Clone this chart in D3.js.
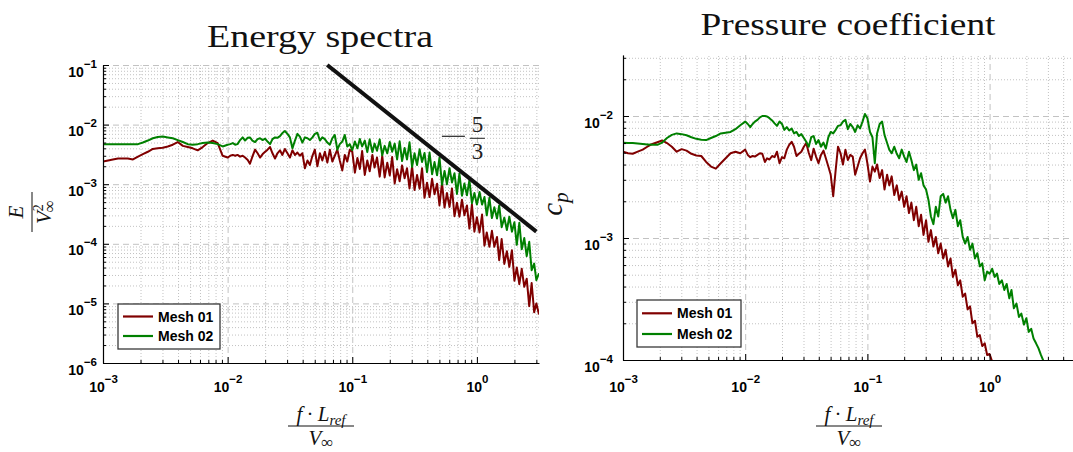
<!DOCTYPE html>
<html><head><meta charset="utf-8">
<script src="https://cdnjs.cloudflare.com/ajax/libs/d3/7.8.5/d3.min.js"></script>
<style>body{margin:0;background:#fff;} svg{display:block;}</style>
</head><body>
<script>
// ---------------- data ----------------
const freq = [
1.00e-3,1.10e-3,1.20e-3,1.32e-3,1.45e-3,1.58e-3,1.74e-3,1.91e-3,2.09e-3,2.29e-3,
2.51e-3,2.75e-3,3.02e-3,3.31e-3,3.63e-3,3.98e-3,4.37e-3,4.79e-3,5.25e-3,5.75e-3,
6.31e-3,6.92e-3,7.59e-3,8.32e-3,9.12e-3,
0.0100,0.0105,0.0110,0.0115,0.0120,0.0126,0.0132,0.0138,0.0145,0.0151,
0.0158,0.0166,0.0174,0.0182,0.0191,0.0200,0.0209,0.0219,0.0229,0.0240,
0.0251,0.0263,0.0275,0.0288,0.0302,0.0316,0.0331,0.0347,0.0363,0.0380,
0.0398,0.0417,0.0437,0.0457,0.0479,0.0501,0.0525,0.0550,0.0575,0.0603,
0.0631,0.0661,0.0692,0.0724,0.0759,0.0794,0.0832,0.0871,0.0912,0.0955,
0.100,0.105,0.110,0.115,0.120,0.126,0.132,0.138,0.145,0.151,
0.158,0.166,0.174,0.182,0.191,0.200,0.209,0.219,0.229,0.240,
0.251,0.263,0.275,0.288,0.302,0.316,0.331,0.347,0.363,0.380,
0.398,0.417,0.437,0.457,0.479,0.501,0.525,0.550,0.575,0.603,
0.631,0.661,0.692,0.724,0.759,0.794,0.832,0.871,0.912,0.955,
1.00,1.05,1.10,1.15,1.20,1.26,1.32,1.38,1.45,1.51,
1.58,1.66,1.74,1.82,1.91,2.00,2.09,2.19,2.29,2.40,
2.51,2.63,2.75,2.88,3.00,3.15];

// Energy spectra E/V^2
const specMesh01 = [
2.4e-3,2.5e-3,2.6e-3,2.7e-3,2.7e-3,2.7e-3,2.6e-3,2.9e-3,3.2e-3,3.5e-3,
3.9e-3,4.0e-3,4.1e-3,4.3e-3,4.6e-3,5.1e-3,4.4e-3,4.2e-3,4.0e-3,3.7e-3,
4.2e-3,4.9e-3,5.4e-3,4.9e-3,3.0e-3,
2.8e-3,3.0e-3,3.1e-3,3.0e-3,3.1e-3,2.9e-3,3.0e-3,2.8e-3,2.55e-3,2.2e-3,
2.9e-3,3.8e-3,3.3e-3,2.8e-3,3.2e-3,3.5e-3,3.8e-3,4.2e-3,3.3e-3,2.7e-3,
3.3e-3,3.7e-3,3.1e-3,3.9e-3,3.3e-3,2.8e-3,3.7e-3,3.1e-3,3.4e-3,3.0e-3,
3.3e-3,1.85e-3,2.5e-3,2.1e-3,3.0e-3,3.8e-3,2.0e-3,3.3e-3,2.5e-3,3.5e-3,
2.3e-3,3.8e-3,2.4e-3,3.0e-3,3.8e-3,2.5e-3,1.7e-3,3.1e-3,2.4e-3,3.8e-3,
3.5e-3,1.56e-3,2.75e-3,1.8e-3,3.6e-3,1.43e-3,2.5e-3,1.65e-3,3.1e-3,1.9e-3,
2.8e-3,1.34e-3,3.0e-3,1.3e-3,2.3e-3,1.4e-3,2.85e-3,1.03e-3,1.78e-3,1.12e-3,
2.07e-3,1.26e-3,1.85e-3,8.5e-4,2.0e-3,8.0e-4,1.43e-3,8.4e-4,1.85e-3,5.9e-4,
1.06e-3,6.1e-4,1.23e-3,6.8e-4,1.02e-3,4.4e-4,1.05e-3,4.05e-4,7.1e-4,4.15e-4,
8.5e-4,2.9e-4,4.9e-4,2.85e-4,5.5e-4,3.0e-4,4.4e-4,1.8e-4,4.6e-4,1.6e-4,
2.8e-4,1.55e-4,3.1e-4,9.3e-5,1.55e-4,8.9e-5,1.65e-4,8.9e-5,1.3e-4,5.3e-5,
1.2e-4,4.6e-5,7.5e-5,4.1e-5,7.8e-5,2.4e-5,4.0e-5,2.1e-5,3.8e-5,1.9e-5,
2.6e-5,9.0e-6,2.2e-5,7.1e-6,1.0e-5,6.5e-6];

const specMesh02 = [
4.7e-3,4.7e-3,4.7e-3,4.7e-3,4.7e-3,4.7e-3,4.7e-3,4.7e-3,5.0e-3,5.4e-3,
5.9e-3,6.2e-3,6.3e-3,6.1e-3,5.9e-3,5.5e-3,5.1e-3,4.7e-3,4.6e-3,4.7e-3,
4.9e-3,5.0e-3,4.9e-3,4.7e-3,4.3e-3,
4.6e-3,4.7e-3,4.9e-3,4.6e-3,4.7e-3,5.5e-3,6.1e-3,5.4e-3,6.0e-3,6.1e-3,
5.4e-3,5.1e-3,5.7e-3,5.9e-3,5.5e-3,5.8e-3,5.2e-3,4.7e-3,5.7e-3,6.1e-3,
6.0e-3,6.4e-3,7.2e-3,7.8e-3,7.0e-3,6.1e-3,4.0e-3,5.4e-3,7.0e-3,6.3e-3,
5.0e-3,6.1e-3,5.9e-3,5.5e-3,6.1e-3,7.0e-3,7.3e-3,5.4e-3,6.1e-3,5.7e-3,
5.0e-3,4.6e-3,5.9e-3,6.7e-3,3.8e-3,4.7e-3,5.2e-3,6.7e-3,4.3e-3,4.7e-3,
3.75e-3,5.2e-3,4.0e-3,5.75e-3,4.3e-3,5.4e-3,3.45e-3,5.65e-3,3.45e-3,4.8e-3,
3.65e-3,5.65e-3,3.05e-3,4.4e-3,3.3e-3,5.1e-3,3.5e-3,4.8e-3,2.6e-3,5.25e-3,
2.45e-3,4.05e-3,2.6e-3,5.05e-3,1.95e-3,3.3e-3,2.1e-3,3.85e-3,2.35e-3,3.35e-3,
1.6e-3,3.4e-3,1.47e-3,2.35e-3,1.41e-3,2.8e-3,9.8e-4,1.67e-3,1.0e-3,1.85e-3,
1.07e-3,1.53e-3,6.85e-4,1.5e-3,6.4e-4,1.03e-3,6.5e-4,1.17e-3,4.8e-4,7.1e-4,
4.55e-4,7.4e-4,4.55e-4,6.1e-4,3.0e-4,5.9e-4,2.7e-4,4.1e-4,2.65e-4,4.4e-4,
1.9e-4,2.75e-4,1.7e-4,2.85e-4,1.6e-4,2.3e-4,9.6e-5,2.25e-4,8.1e-5,1.25e-4,
6.2e-5,1.08e-4,3.6e-5,4.65e-5,2.45e-5,3.2e-5];

// Pressure coefficient c_p
const cpMesh01 = [
5.1e-3,4.95e-3,4.9e-3,5.1e-3,5.3e-3,5.6e-3,5.9e-3,6.1e-3,6.3e-3,6.0e-3,
5.6e-3,5.1e-3,5.35e-3,5.2e-3,4.9e-3,4.75e-3,4.7e-3,4.2e-3,3.85e-3,3.7e-3,
4.1e-3,4.5e-3,4.95e-3,5.1e-3,4.95e-3,
5.3e-3,4.8e-3,4.6e-3,4.7e-3,4.65e-3,4.8e-3,4.95e-3,4.9e-3,4.2e-3,4.5e-3,
4.4e-3,4.7e-3,4.6e-3,5.1e-3,4.1e-3,4.6e-3,4.5e-3,5.3e-3,5.8e-3,6.15e-3,
5.6e-3,4.7e-3,4.9e-3,5.1e-3,5.6e-3,6.0e-3,5.0e-3,4.35e-3,5.4e-3,4.65e-3,
4.1e-3,4.8e-3,5.2e-3,4.5e-3,3.85e-3,3.3e-3,2.2e-3,3.6e-3,5.6e-3,4.95e-3,
4.0e-3,5.3e-3,4.35e-3,4.8e-3,4.65e-3,3.3e-3,3.85e-3,4.5e-3,4.95e-3,5.3e-3,
4.1e-3,2.9e-3,3.85e-3,3.5e-3,4.0e-3,3.1e-3,3.6e-3,2.5e-3,3.3e-3,2.7e-3,
3.2e-3,2.25e-3,2.7e-3,2.05e-3,2.4e-3,1.8e-3,2.2e-3,1.6e-3,1.95e-3,1.4e-3,
1.8e-3,1.25e-3,1.55e-3,1.06e-3,1.4e-3,9.3e-4,1.16e-3,8.5e-4,1.02e-3,7.5e-4,
9.0e-4,6.8e-4,8.0e-4,5.85e-4,6.8e-4,4.8e-4,5.5e-4,4.1e-4,4.5e-4,3.3e-4,
3.5e-4,2.6e-4,2.75e-4,2.0e-4,2.1e-4,1.55e-4,1.6e-4,1.3e-4,1.37e-4,1.1e-4,
1.12e-4,9.7e-5,8.9e-5,7.5e-5,7.8e-5,6.2e-5,6.5e-5,5.1e-5,5.4e-5,4.2e-5,
4.5e-5,3.5e-5,3.7e-5,2.9e-5,3.0e-5,2.4e-5,2.5e-5,2.0e-5,2.1e-5,1.6e-5,
1.7e-5,1.3e-5,1.4e-5,1.1e-5,1.1e-5,1.0e-5];

const cpMesh02 = [
6.05e-3,6.0e-3,6.0e-3,5.95e-3,5.9e-3,5.85e-3,5.8e-3,5.8e-3,6.05e-3,6.6e-3,
7.0e-3,7.2e-3,7.1e-3,6.95e-3,6.7e-3,6.5e-3,6.4e-3,6.35e-3,6.6e-3,6.85e-3,
7.2e-3,7.3e-3,7.4e-3,7.8e-3,8.4e-3,
9.0e-3,8.6e-3,8.1e-3,8.6e-3,9.0e-3,9.3e-3,9.75e-3,1.0e-2,1.0e-2,9.9e-3,
9.6e-3,9.2e-3,8.7e-3,8.3e-3,9.0e-3,8.6e-3,7.7e-3,8.1e-3,7.6e-3,7.9e-3,
7.2e-3,7.4e-3,6.85e-3,7.1e-3,6.6e-3,6.15e-3,5.6e-3,6.7e-3,6.85e-3,5.9e-3,
6.35e-3,5.6e-3,6.05e-3,5.4e-3,6.7e-3,7.4e-3,7.2e-3,7.7e-3,8.3e-3,8.4e-3,
9.0e-3,9.3e-3,7.8e-3,8.6e-3,8.1e-3,7.4e-3,8.4e-3,7.9e-3,9.0e-3,1.04e-2,
9.6e-3,7.4e-3,6.7e-3,4.1e-3,7.2e-3,8.6e-3,9.0e-3,7.0e-3,6.0e-3,5.3e-3,
4.95e-3,5.6e-3,4.9e-3,4.5e-3,5.3e-3,4.65e-3,4.2e-3,5.1e-3,4.35e-3,3.6e-3,
4.0e-3,3.0e-3,3.4e-3,2.7e-3,2.5e-3,2.05e-3,1.5e-3,1.3e-3,1.8e-3,1.5e-3,
2.2e-3,2.3e-3,1.95e-3,2.2e-3,1.7e-3,1.45e-3,1.7e-3,1.25e-3,1.4e-3,1.02e-3,
9.0e-4,1.02e-3,8.0e-4,9.0e-4,6.8e-4,7.5e-4,5.85e-4,6.2e-4,4.5e-4,5.3e-4,
5.1e-4,5.6e-4,4.8e-4,5.1e-4,4.2e-4,4.5e-4,3.75e-4,4.2e-4,3.2e-4,3.75e-4,
2.65e-4,2.9e-4,2.25e-4,2.4e-4,1.95e-4,2.2e-4,1.7e-4,1.8e-4,1.5e-4,1.37e-4,
1.25e-4,1.1e-4,9.9e-5,9.1e-5,8.3e-5,7.5e-5];

const seriesNames = ["Mesh 01", "Mesh 02"];
const seriesColors = ["#800000", "#008000"];
const slopeX = [0.063, 3.0];          // -5/3 reference line
const slopeY = [1.0e-1, 1.6e-4];
const xTickValues = [1e-3, 1e-2, 1e-1, 1e0];
const specYTickValues = [1e-6, 1e-5, 1e-4, 1e-3, 1e-2, 1e-1];
const cpYTickValues = [1e-4, 1e-3, 1e-2];
const titles = ["Energy spectra", "Pressure coefficient"];

// ---------------- drawing ----------------
const W = 1073, H = 452;
const svg = d3.select("body").append("svg").attr("width", W).attr("height", H)
  .attr("font-family", "'Liberation Sans', Arial, sans-serif");

function logSteps(domain, major) {
  const out = [];
  const lo = Math.floor(Math.log10(domain[0]) + 1e-9), hi = Math.ceil(Math.log10(domain[1]));
  for (let d = lo; d <= hi; d++) for (let m = 1; m <= 9; m++) {
    const v = m * Math.pow(10, d);
    if (v < domain[0] * (1 - 1e-9) || v > domain[1] * (1 + 1e-9)) continue;
    if ((m === 1) === major) out.push(v);
  }
  return out;
}
function expText(v) {
  const e = Math.round(Math.log10(v));
  return e < 0 ? "\u2212" + (-e) : String(e);
}

function drawPanel(cfg, idx) {
  const g = svg.append("g");
  const xs = d3.scaleLog().domain(cfg.xDomain).range([cfg.left, cfg.right]);
  const ys = d3.scaleLog().domain(cfg.yDomain).range([cfg.bottom, cfg.top]);
  const w = cfg.right - cfg.left, h = cfg.bottom - cfg.top;
  const xMin = logSteps(cfg.xDomain, false), xMaj = logSteps(cfg.xDomain, true);
  const yMin = logSteps(cfg.yDomain, false), yMaj = logSteps(cfg.yDomain, true);

  // grids
  const grid = (axisGen, tr, vals, size, dash) => {
    g.append("g").attr("transform", tr)
      .call(axisGen.tickValues(vals).tickSize(size).tickSizeOuter(0).tickFormat(""))
      .call(a => a.select(".domain").remove())
      .selectAll("line").attr("stroke", "#c2c2c2").attr("stroke-width", 1).attr("stroke-dasharray", dash);
  };
  grid(d3.axisBottom(xs), `translate(0,${cfg.bottom})`, xMin, -h, "1,2");
  grid(d3.axisLeft(ys), `translate(${cfg.left},0)`, yMin, -w, "1,2");
  grid(d3.axisBottom(xs), `translate(0,${cfg.bottom})`, xMaj, -h, "6,4");
  grid(d3.axisLeft(ys), `translate(${cfg.left},0)`, yMaj, -w, "6,4");

  // series
  const clipId = "clip" + idx;
  svg.append("clipPath").attr("id", clipId).append("rect")
    .attr("x", cfg.left).attr("y", cfg.top).attr("width", w).attr("height", h);
  const line = d3.line().x(d => xs(d[0])).y(d => ys(d[1]));
  cfg.series.forEach((s, i) => {
    g.append("path").datum(freq.map((f, k) => [f, s[k]]))
      .attr("clip-path", `url(#${clipId})`)
      .attr("fill", "none").attr("stroke", seriesColors[i])
      .attr("stroke-width", 2).attr("stroke-linejoin", "round").attr("d", line);
  });

  if (cfg.slope) {
    g.append("path").datum(slopeX.map((x, k) => [x, slopeY[k]]))
      .attr("fill", "none").attr("stroke", "#111").attr("stroke-width", 4).attr("d", line);
    const ax = xs(1.0), ay = ys(4e-3);
    const sl = g.append("g").attr("font-family", "'Liberation Serif', 'Times New Roman', serif").attr("font-size", 23).attr("fill", "#222");
    sl.append("line").attr("x1", ax - 35).attr("x2", ax - 12).attr("y1", ay - 12).attr("y2", ay - 12).attr("stroke", "#333").attr("stroke-width", 1.3);
    sl.append("line").attr("x1", ax - 7).attr("x2", ax + 8).attr("y1", ay - 10).attr("y2", ay - 10).attr("stroke", "#333").attr("stroke-width", 1.1);
    sl.append("text").attr("x", ax + 0.5).attr("y", ay - 16).attr("text-anchor", "middle").text("5");
    sl.append("text").attr("x", ax + 0.5).attr("y", ay + 11).attr("text-anchor", "middle").text("3");
  }

  // axes
  const xa = g.append("g").attr("transform", `translate(0,${cfg.bottom})`)
    .call(d3.axisBottom(xs).tickValues(xMaj).tickSize(-6).tickSizeOuter(0).tickFormat(""));
  g.append("g").attr("transform", `translate(0,${cfg.bottom})`)
    .call(d3.axisBottom(xs).tickValues(xMin).tickSize(-3).tickSizeOuter(0).tickFormat(""))
    .call(a => a.select(".domain").remove());
  const ya = g.append("g").attr("transform", `translate(${cfg.left},0)`)
    .call(d3.axisLeft(ys).tickValues(yMaj).tickSize(-6).tickSizeOuter(0).tickFormat(""));
  g.append("g").attr("transform", `translate(${cfg.left},0)`)
    .call(d3.axisLeft(ys).tickValues(yMin).tickSize(-3).tickSizeOuter(0).tickFormat(""))
    .call(a => a.select(".domain").remove());
  g.selectAll(".domain").attr("stroke", "#000").attr("stroke-width", 1.2);
  g.selectAll(".tick line").filter(function () { return !this.getAttribute("stroke-dasharray"); })
    .attr("stroke", "#000");

  // tick labels
  xa.selectAll(".tick").filter(d => xTickValues.some(v => Math.abs(v - d) / v < 1e-6))
    .append("text").attr("y", 392 - cfg.bottom).attr("text-anchor", "middle")
    .attr("fill", "#000").attr("font-weight", "bold").attr("font-size", 14)
    .each(function (d) {
      const t = d3.select(this);
      t.append("tspan").text("10");
      t.append("tspan").attr("font-size", 11.5).attr("dy", -9).text(expText(d));
    });
  ya.selectAll(".tick").filter(d => cfg.yTicks.some(v => Math.abs(v - d) / v < 1e-6))
    .append("text").attr("x", -cfg.yLabelGap).attr("y", 11).attr("text-anchor", "end")
    .attr("fill", "#000").attr("font-weight", "bold").attr("font-size", 14)
    .each(function (d) {
      const t = d3.select(this);
      t.append("tspan").text("10");
      t.append("tspan").attr("font-size", 11.5).attr("dy", -9).text(expText(d));
    });

  // title
  g.append("text").attr("x", cfg.titleX).attr("y", cfg.titleY).attr("text-anchor", "middle")
    .attr("font-family", "'Liberation Serif', 'Times New Roman', serif").attr("font-size", 32)
    .attr("textLength", cfg.titleLen).attr("lengthAdjust", "spacingAndGlyphs")
    .attr("fill", "#111").text(titles[idx]);

  // x label: f·L_ref / V_inf
  const serif = "'Liberation Serif', 'Times New Roman', serif";
  const xl = g.append("g").attr("transform", `translate(${cfg.xLabelX},426)`)
    .attr("font-family", serif).attr("fill", "#111");
  const num = xl.append("text").attr("y", -5).attr("text-anchor", "middle").attr("font-size", 21);
  num.append("tspan").attr("font-style", "italic").text("f");
  num.append("tspan").text("\u2009\u00b7\u2009");
  num.append("tspan").attr("font-style", "italic").text("L");
  num.append("tspan").attr("font-style", "italic").attr("font-size", 15).attr("dy", 4).text("ref");
  xl.append("line").attr("x1", -33).attr("x2", 33).attr("stroke", "#111").attr("stroke-width", 1);
  const den = xl.append("text").attr("y", 19).attr("text-anchor", "middle").attr("font-size", 21);
  den.append("tspan").attr("font-style", "italic").text("V");
  den.append("tspan").attr("font-size", 17).attr("dy", 3).text("\u221e");

  // legend
  const L = cfg.legend;
  const lg = g.append("g").attr("transform", `translate(${L[0]},${L[1]})`);
  lg.append("rect").attr("width", L[2]).attr("height", L[3]).attr("fill", "#fff")
    .attr("stroke", "#3a3a3a").attr("stroke-width", 1.3);
  seriesNames.forEach((n, i) => {
    const yy = L[4] + i * L[5];
    lg.append("line").attr("x1", 5).attr("x2", 35).attr("y1", yy).attr("y2", yy)
      .attr("stroke", seriesColors[i]).attr("stroke-width", 2.2);
    lg.append("text").attr("x", 40).attr("y", yy + 5).attr("font-weight", "bold")
      .attr("font-size", 14).attr("fill", "#000").text(n);
  });
  return g;
}

drawPanel({
  left: 103, right: 539, top: 65, bottom: 363,
  xDomain: [1e-3, 3.15], yDomain: [1e-6, 1e-1],
  series: [specMesh01, specMesh02], slope: true,
  yTicks: specYTickValues, yLabelGap: 6,
  titleX: 320, titleY: 47, titleLen: 226, xLabelX: 321,
  legend: [118, 304, 102, 45, 12.5, 19.5]
}, 0);

drawPanel({
  left: 623, right: 1075, top: 55, bottom: 360,
  xDomain: [1e-3, 5], yDomain: [1e-4, Math.pow(10, -1.5)],
  series: [cpMesh01, cpMesh02], slope: false,
  yTicks: cpYTickValues, yLabelGap: 10,
  titleX: 848, titleY: 35, titleLen: 295, xLabelX: 849,
  legend: [637, 300, 104, 47, 13.3, 20.7]
}, 1);

// y labels
const serifF = "'Liberation Serif', 'Times New Roman', serif";
const yl = svg.append("g").attr("transform", "translate(32,212) rotate(-90)")
  .attr("font-family", serifF).attr("fill", "#111");
yl.append("text").attr("y", -9).attr("text-anchor", "middle").attr("font-size", 21)
  .attr("font-style", "italic").text("E");
yl.append("line").attr("x1", -20).attr("x2", 20).attr("stroke", "#111").attr("stroke-width", 1);
const yden = yl.append("text").attr("y", 19).attr("text-anchor", "middle").attr("font-size", 21);
yden.append("tspan").attr("font-style", "italic").text("V");
yden.append("tspan").attr("font-size", 14).attr("dy", -8).text("2");
yden.append("tspan").attr("font-size", 17).attr("dx", -8).attr("dy", 12).text("\u221e");

const cpl = svg.append("g").attr("transform", "translate(562,204) rotate(-90)")
  .attr("font-family", serifF).attr("fill", "#111");
const cpt = cpl.append("text").attr("text-anchor", "middle").attr("font-style", "italic").attr("font-size", 29);
cpt.append("tspan").text("c");
cpt.append("tspan").attr("font-size", 21).attr("dy", 6).text("p");
</script>
</body></html>
